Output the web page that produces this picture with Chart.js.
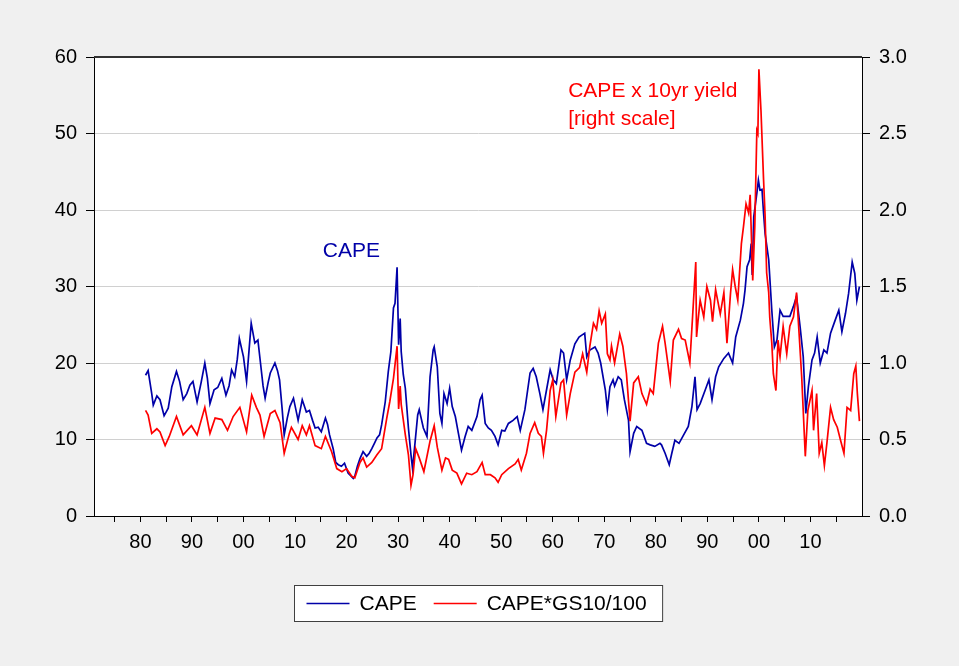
<!DOCTYPE html>
<html>
<head>
<meta charset="utf-8">
<script src="https://cdn.jsdelivr.net/npm/chart.js@4.4.1/dist/chart.umd.min.js"></script>
<style>
  html, body { margin: 0; padding: 0; background: #f0f0f0; }
  #wrap { width: 959px; height: 666px; }
</style>
</head>
<body>
<div id="wrap"><canvas id="capeChart" width="959" height="666"></canvas></div>
<script>
// CAPE (left scale)
const capeYears = [
  1881.0, 1881.5, 1882.2, 1882.5, 1883.2, 1883.8, 1884.6, 1885.4, 1886.1, 1887.0,
  1887.6, 1888.3, 1889.0, 1889.6, 1890.2, 1891.0, 1891.8, 1892.5, 1893.0, 1893.5,
  1894.3, 1895.0, 1895.8, 1896.6, 1897.2, 1897.7, 1898.3, 1898.8, 1899.2, 1900.0,
  1900.6, 1901.0, 1901.5, 1902.2, 1902.8, 1903.3, 1903.8, 1904.2, 1904.8, 1905.2,
  1906.1, 1906.6, 1907.0, 1907.5, 1907.9, 1908.5, 1909.0, 1909.7, 1910.6, 1911.4,
  1912.2, 1912.8, 1913.4, 1913.9, 1914.5, 1915.1, 1915.9, 1916.3, 1916.7, 1917.4,
  1917.9, 1918.4, 1919.0, 1919.6, 1920.3, 1921.3, 1921.6, 1922.1, 1922.6, 1923.2,
  1923.9, 1924.4, 1924.9, 1925.4, 1925.9, 1926.4, 1926.8, 1927.5, 1928.1, 1928.6,
  1929.1, 1929.4, 1929.8, 1930.1, 1930.4, 1930.6, 1931.0, 1931.4, 1932.0, 1932.5,
  1932.8, 1933.3, 1933.8, 1934.1, 1934.9, 1935.6, 1936.2, 1936.8, 1937.0, 1937.6,
  1938.1, 1938.5, 1938.9, 1939.5, 1940.0, 1940.5, 1941.1, 1941.7, 1942.3, 1943.0,
  1943.6, 1944.3, 1945.3, 1945.9, 1946.3, 1946.9, 1947.5, 1948.1, 1948.8, 1949.4,
  1950.1, 1950.7, 1951.4, 1952.3, 1953.1, 1953.7, 1954.6, 1955.6, 1956.2, 1956.8,
  1957.5, 1958.1, 1958.8, 1959.5, 1960.1, 1960.7, 1961.6, 1962.1, 1962.7, 1963.4,
  1964.3, 1965.1, 1966.2, 1966.6, 1967.2, 1968.2, 1968.8, 1969.3, 1970.2, 1970.6,
  1971.1, 1971.7, 1972.0, 1972.7, 1973.3, 1973.9, 1974.7, 1975.0, 1975.7, 1976.3,
  1977.3, 1978.2, 1978.9, 1979.8, 1980.8, 1981.1, 1981.8, 1982.6, 1983.1, 1983.7,
  1984.5, 1985.4, 1986.3, 1987.0, 1987.6, 1988.0, 1988.6, 1989.6, 1990.3, 1990.9,
  1991.6, 1992.2, 1993.2, 1994.1, 1994.9, 1995.5, 1996.4, 1997.0, 1997.3, 1997.7,
  1998.2, 1998.5, 1998.7, 1999.0, 1999.6, 1999.9, 2000.2, 2000.6, 2000.9, 2001.2,
  2001.9, 2002.5, 2003.0, 2003.5, 2004.1, 2004.7, 2005.4, 2006.0, 2006.7, 2007.3,
  2008.0, 2008.6, 2009.1, 2009.6, 2010.3, 2010.8, 2011.3, 2011.9, 2012.6, 2013.2,
  2013.9, 2014.8, 2015.5, 2016.1, 2016.8, 2017.4, 2018.1, 2018.6, 2019.0, 2019.5
];
const capeValues = [
  18.4, 19.0, 16.0, 14.5, 15.7, 15.2, 13.1, 14.1, 16.9, 18.9,
  17.6, 15.2, 16.0, 17.1, 17.6, 14.9, 17.5, 20.0, 18.0, 14.7,
  16.5, 16.8, 18.0, 15.8, 17.0, 19.1, 18.2, 20.5, 23.2, 20.8,
  17.6, 21.0, 25.2, 22.6, 23.0, 20.0, 17.0, 15.4, 17.5, 18.7,
  20.0, 19.0, 17.8, 14.0, 10.6, 12.8, 14.3, 15.4, 12.5, 15.2,
  13.6, 13.8, 12.5, 11.5, 11.6, 11.0, 12.8, 12.0, 10.6, 8.8,
  7.0, 6.7, 6.5, 6.9, 5.6, 4.9, 5.2, 6.5, 7.5, 8.4,
  7.8, 8.2, 8.8, 9.5, 10.2, 10.6, 11.9, 14.9, 18.9, 21.5,
  27.2, 27.8, 32.5, 22.4, 25.8, 21.5, 18.5, 16.7, 11.5, 8.0,
  6.2, 9.7, 13.2, 13.9, 11.5, 10.4, 18.2, 21.7, 22.1, 19.5,
  13.4, 12.1, 16.0, 14.7, 16.7, 14.3, 13.0, 10.8, 8.6, 10.4,
  11.7, 11.2, 13.0, 15.2, 15.8, 12.1, 11.5, 11.2, 10.4, 9.3,
  11.2, 11.1, 12.1, 12.5, 13.0, 11.2, 13.9, 18.7, 19.3, 18.2,
  16.0, 13.9, 16.5, 19.1, 17.8, 17.3, 21.7, 21.3, 17.8, 20.4,
  22.5, 23.4, 23.9, 20.8, 21.7, 22.1, 21.3, 20.0, 16.5, 13.9,
  16.9, 17.8, 17.0, 18.2, 17.8, 15.2, 12.5, 8.4, 10.8, 11.7,
  11.2, 9.5, 9.3, 9.1, 9.5, 9.3, 8.2, 6.7, 8.2, 9.9,
  9.5, 10.6, 11.7, 14.3, 18.2, 13.9, 14.7, 16.5, 17.8, 15.2,
  18.2, 19.5, 20.6, 21.3, 20.0, 23.4, 25.6, 27.8, 29.5, 32.6,
  33.5, 35.6, 31.5, 39.1, 42.2, 43.9, 42.6, 42.7, 39.6, 36.9,
  33.5, 26.9, 22.1, 23.0, 26.9, 26.1, 26.1, 26.1, 27.4, 28.7,
  24.7, 20.8, 13.4, 16.9, 20.4, 21.3, 23.4, 20.0, 21.7, 21.3,
  23.9, 25.6, 26.9, 24.1, 26.5, 29.1, 33.2, 31.7, 28.2, 30.0
];

// CAPE*GS10/100 (right scale)
const yieldYears = [
  1881.0, 1881.5, 1882.2, 1883.2, 1883.8, 1884.8, 1885.6, 1887.0, 1888.3, 1889.9,
  1891.0, 1892.5, 1893.5, 1894.5, 1895.8, 1896.9, 1898.0, 1899.3, 1900.6, 1901.6,
  1902.5, 1903.2, 1904.0, 1905.2, 1906.1, 1907.1, 1907.9, 1908.9, 1909.3, 1910.6,
  1911.4, 1912.2, 1912.8, 1913.9, 1915.1, 1915.9, 1917.1, 1918.1, 1919.1, 1920.0,
  1921.0, 1921.6, 1922.6, 1923.2, 1923.9, 1924.9, 1925.9, 1926.8, 1927.8, 1928.4,
  1929.1, 1929.8, 1930.1, 1930.4, 1930.6, 1931.4, 1932.0, 1932.5, 1932.9, 1933.4,
  1934.1, 1935.0, 1936.2, 1937.0, 1937.6, 1938.5, 1939.2, 1939.8, 1940.5, 1941.4,
  1942.3, 1943.3, 1944.3, 1945.3, 1946.3, 1946.9, 1947.9, 1948.8, 1949.4, 1950.1,
  1951.4, 1952.7, 1953.3, 1953.9, 1954.9, 1955.6, 1956.5, 1957.2, 1957.8, 1958.2,
  1958.8, 1959.5, 1960.0, 1960.6, 1961.6, 1962.1, 1962.7, 1963.4, 1964.3, 1965.2,
  1965.8, 1966.6, 1967.2, 1967.9, 1968.5, 1969.0, 1969.5, 1970.2, 1970.6, 1971.1,
  1971.4, 1972.0, 1973.0, 1973.6, 1974.3, 1975.0, 1975.7, 1976.6, 1977.3, 1978.2,
  1978.9, 1979.5, 1980.5, 1981.3, 1981.8, 1982.8, 1983.4, 1984.4, 1985.0, 1985.7,
  1986.6, 1987.3, 1987.75, 1987.9, 1988.2, 1988.6, 1989.3, 1989.9, 1990.6, 1991.0,
  1991.6, 1992.5, 1993.2, 1993.8, 1994.5, 1994.9, 1995.4, 1995.9, 1996.6, 1997.0,
  1997.5, 1998.0, 1998.3, 1998.8, 1999.2, 1999.6, 1999.8, 2000.0, 2000.4, 2000.9,
  2001.2, 2001.5, 2001.9, 2002.1, 2002.5, 2002.8, 2003.3, 2003.7, 2004.1, 2004.7,
  2005.4, 2006.0, 2006.7, 2007.3, 2007.8, 2008.3, 2009.0, 2009.5, 2010.3, 2010.6,
  2011.2, 2011.7, 2012.2, 2012.7, 2013.2, 2013.9, 2014.5, 2015.2, 2015.8, 2016.5,
  2017.1, 2017.8, 2018.4, 2018.8, 2019.1, 2019.5
];
const yieldValues = [
  0.69, 0.66, 0.54, 0.57, 0.55, 0.46, 0.52, 0.65, 0.53, 0.59,
  0.53, 0.71, 0.54, 0.64, 0.63, 0.56, 0.65, 0.71, 0.55, 0.79,
  0.71, 0.66, 0.52, 0.67, 0.69, 0.61, 0.41, 0.54, 0.58, 0.50,
  0.59, 0.53, 0.59, 0.46, 0.44, 0.52, 0.42, 0.31, 0.29, 0.31,
  0.26, 0.25, 0.35, 0.38, 0.32, 0.35, 0.40, 0.44, 0.64, 0.75,
  0.90, 1.11, 0.70, 0.85, 0.73, 0.53, 0.40, 0.20, 0.27, 0.44,
  0.38, 0.29, 0.49, 0.59, 0.45, 0.30, 0.38, 0.37, 0.30, 0.28,
  0.21, 0.28, 0.27, 0.29, 0.35, 0.27, 0.27, 0.25, 0.22, 0.27,
  0.31, 0.34, 0.37, 0.30, 0.41, 0.54, 0.61, 0.54, 0.52, 0.41,
  0.56, 0.82, 0.89, 0.65, 0.87, 0.89, 0.66, 0.80, 0.94, 0.97,
  1.06, 0.94, 1.11, 1.26, 1.22, 1.34, 1.26, 1.32, 1.06, 1.02,
  1.11, 1.00, 1.19, 1.11, 0.93, 0.62, 0.87, 0.91, 0.80, 0.73,
  0.83, 0.80, 1.13, 1.24, 1.13, 0.88, 1.15, 1.22, 1.16, 1.15,
  1.00, 1.40, 1.66, 1.17, 1.28, 1.41, 1.30, 1.50, 1.41, 1.27,
  1.48, 1.32, 1.46, 1.13, 1.46, 1.61, 1.50, 1.41, 1.78, 1.89,
  2.04, 1.98, 2.10, 1.54, 1.89, 2.52, 2.50, 2.92, 2.65, 2.20,
  1.96, 1.59, 1.46, 1.30, 1.13, 0.93, 0.82, 1.15, 1.04, 1.24,
  1.06, 1.24, 1.30, 1.46, 1.19, 0.91, 0.39, 0.69, 0.82, 0.56,
  0.80, 0.41, 0.48, 0.33, 0.48, 0.71, 0.63, 0.58, 0.50, 0.41,
  0.71, 0.69, 0.93, 0.98, 0.80, 0.62
];

const xTicks = [1875, 1880, 1885, 1890, 1895, 1900, 1905, 1910, 1915, 1920, 1925, 1930,
  1935, 1940, 1945, 1950, 1955, 1960, 1965, 1970, 1975, 1980, 1985, 1990, 1995,
  2000, 2005, 2010, 2015];
const leftTicks = [0, 10, 20, 30, 40, 50, 60];
const rightTicks = [0, 0.5, 1.0, 1.5, 2.0, 2.5, 3.0];

const seriesNames = ['CAPE', 'CAPE*GS10/100'];
const BLUE = '#0000a8';
const RED = '#ff0000';
const FONT = '"Liberation Sans", Arial, sans-serif';

// text notes placed in data units
const notes = [
  { text: 'CAPE', x: 1915.4, y: 33.9, axis: 'y', color: BLUE },
  { text: 'CAPE x 10yr yield', x: 1963.0, y: 2.74, axis: 'y1', color: RED },
  { text: '[right scale]', x: 1963.0, y: 2.555, axis: 'y1', color: RED }
];

const toPoints = (xs, ys) => xs.map((x, i) => ({ x: x, y: ys[i] }));

const framePlugin = {
  id: 'frame',
  beforeDraw(chart) {
    const { ctx, chartArea: a } = chart;
    ctx.save();
    ctx.fillStyle = '#ffffff';
    ctx.fillRect(a.left, a.top, a.right - a.left, a.bottom - a.top);
    ctx.restore();
  },
  afterDraw(chart) {
    const { ctx, chartArea: a, scales } = chart;
    ctx.save();
    // heavy top edge
    ctx.strokeStyle = '#333333';
    ctx.lineWidth = 2;
    ctx.beginPath();
    ctx.moveTo(a.left, a.top);
    ctx.lineTo(a.right, a.top);
    ctx.stroke();

    // notes
    ctx.font = '21px ' + FONT;
    ctx.textAlign = 'left';
    ctx.textBaseline = 'alphabetic';
    notes.forEach(n => {
      ctx.fillStyle = n.color;
      ctx.fillText(n.text, scales.x.getPixelForValue(n.x), scales[n.axis].getPixelForValue(n.y));
    });

    // legend box
    const colors = [BLUE, RED];
    const sample = 43, gapText = 10, gapItem = 17, padL = 12, padR = 16;
    const widths = seriesNames.map(s => ctx.measureText(s).width);
    let total = padL + padR;
    widths.forEach((w, i) => { total += sample + gapText + w + (i ? gapItem : 0); });
    const boxH = 36;
    const cx = (a.left + a.right) / 2;
    const bx = Math.round(cx - total / 2) + 0.5;
    const by = 585.5;
    ctx.fillStyle = '#ffffff';
    ctx.fillRect(bx, by, total, boxH);
    ctx.strokeStyle = '#404040';
    ctx.lineWidth = 1;
    ctx.strokeRect(bx, by, total, boxH);
    let px = bx + padL;
    const ly = by + boxH / 2;
    seriesNames.forEach((s, i) => {
      if (i) px += gapItem;
      ctx.strokeStyle = colors[i];
      ctx.lineWidth = 1.6;
      ctx.beginPath();
      ctx.moveTo(px, ly);
      ctx.lineTo(px + sample, ly);
      ctx.stroke();
      px += sample + gapText;
      ctx.fillStyle = '#000000';
      ctx.textBaseline = 'middle';
      ctx.fillText(s, px, ly + 1);
      px += widths[i];
    });
    ctx.restore();
  }
};

new Chart(document.getElementById('capeChart'), {
  type: 'line',
  data: {
    datasets: [
      {
        label: seriesNames[0],
        data: toPoints(capeYears, capeValues),
        yAxisID: 'y',
        borderColor: BLUE,
        borderWidth: 1.7,
        order: 1
      },
      {
        label: seriesNames[1],
        data: toPoints(yieldYears, yieldValues),
        yAxisID: 'y1',
        borderColor: RED,
        borderWidth: 1.7,
        order: 0
      }
    ]
  },
  options: {
    responsive: false,
    animation: false,
    parsing: false,
    layout: { padding: { top: 57, bottom: 110, left: 0, right: 0 } },
    elements: { point: { radius: 0 }, line: { tension: 0 } },
    plugins: { legend: { display: false }, tooltip: { enabled: false } },
    scales: {
      x: {
        type: 'linear',
        min: 1871,
        max: 2020,
        afterBuildTicks: s => { s.ticks = xTicks.map(v => ({ value: v })); },
        afterFit: s => { s.height = 40; },
        grid: { drawOnChartArea: false, tickLength: 6, tickColor: '#000' },
        border: { color: '#000', width: 1 },
        ticks: {
          autoSkip: false,
          maxRotation: 0,
          padding: 8,
          color: '#000',
          font: { family: FONT, size: 20 },
          callback: v => (v % 10 === 0 ? String(v % 100).padStart(2, '0') : '')
        }
      },
      y: {
        position: 'left',
        min: 0,
        max: 60,
        afterBuildTicks: s => { s.ticks = leftTicks.map(v => ({ value: v })); },
        afterFit: s => { s.width = 94; },
        grid: { color: '#d0d0d0', tickLength: 8, tickColor: '#000' },
        border: { color: '#000', width: 1 },
        ticks: { padding: 9, color: '#000', font: { family: FONT, size: 20 } }
      },
      y1: {
        position: 'right',
        min: 0,
        max: 3,
        afterBuildTicks: s => { s.ticks = rightTicks.map(v => ({ value: v })); },
        afterFit: s => { s.width = 97; },
        grid: { drawOnChartArea: false, tickLength: 8, tickColor: '#000' },
        border: { color: '#000', width: 1 },
        ticks: {
          padding: 9,
          color: '#000',
          font: { family: FONT, size: 20 },
          callback: v => v.toFixed(1)
        }
      }
    }
  },
  plugins: [framePlugin]
});
</script>
</body>
</html>
